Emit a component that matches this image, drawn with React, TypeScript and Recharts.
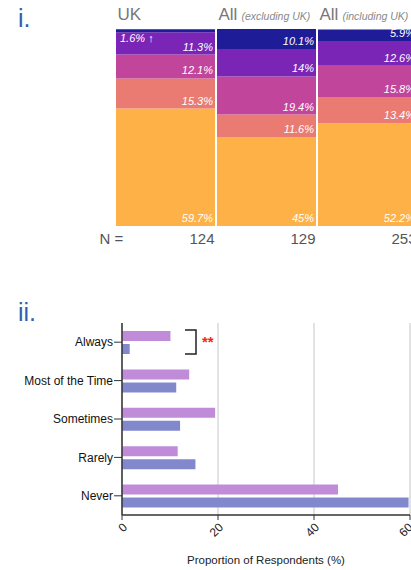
import { BarChart, Bar, XAxis, YAxis, CartesianGrid, LabelList } from 'recharts';

const groups = ['UK', 'All', 'All'];
const groupNotes = ['', '(excluding UK)', '(including UK)'];
const groupN = [124, 129, 253];

const frequencies = ['Always', 'Most of the Time', 'Sometimes', 'Rarely', 'Never'];
const ukShares = [1.6, 11.3, 12.1, 15.3, 59.7];
const exclShares = [10.1, 14, 19.4, 11.6, 45];
const inclShares = [5.9, 12.6, 15.8, 13.4, 52.2];

const xTicks = [0, 20, 40, 60];

const stackKeys = ['always', 'most', 'sometimes', 'rarely', 'never'];
const stackColors = ['#1f1c97', '#7a25b6', '#c2459c', '#e97b72', '#fdb147'];

const sharesByGroup = [ukShares, exclShares, inclShares];
const stackData = groups.map((g, i) => {
  const row: Record<string, any> = { group: `${g}|${i}`, title: g, note: groupNotes[i], n: groupN[i] };
  stackKeys.forEach((k, j) => { row[k] = sharesByGroup[i][j]; });
  return row;
});

const freqData = frequencies.map((f, i) => ({ name: f, excl: exclShares[i], uk: ukShares[i] }));

const font = '"Liberation Sans", Arial, Helvetica, sans-serif';

const TitleTick = (props: any) => {
  const { x, y, index } = props;
  const row = stackData[index];
  return (
    <text x={x - 48} y={y} fontFamily={font} fill="#777">
      <tspan fontSize={17}>{row.title}</tspan>
      {row.note && <tspan fontSize={10.5} fontStyle="italic" fill="#888" dx={4}>{row.note}</tspan>}
    </text>
  );
};

const NTick = (props: any) => {
  const { x, y, index } = props;
  return (
    <g>
      {index === 0 && (
        <text x={x - 54} y={y} fontFamily={font} fontSize={15} fill="#555" textAnchor="middle">N =</text>
      )}
      <text x={x + 49} y={y} fontFamily={font} fontSize={15} fill="#555" textAnchor="end">{groupN[index]}</text>
    </g>
  );
};

const SegLabel = (props: any) => {
  const { x, y, width, height, value } = props;
  if (value < 3) {
    return (
      <text x={x + 4} y={y + height + 10} fill="#fff" fontSize={11} fontStyle="italic" fontFamily={font}>
        {`${value}% ↑`}
      </text>
    );
  }
  return (
    <text x={x + width - 2} y={y + height - 4} fill="#fff" fontSize={11} fontStyle="italic" fontFamily={font} textAnchor="end">
      {`${value}%`}
    </text>
  );
};

const Bracket = (props: any) => {
  const { x, y, height, index } = props;
  if (index !== 0) return null;
  const top = y - 14;
  const bottom = y + height;
  return (
    <g>
      <path d={`M${x + 63},${top} H${x + 74} V${bottom} H${x + 63}`} fill="none" stroke="#222" strokeWidth={1.5} />
      <text x={x + 80} y={(top + bottom) / 2 + 5} fill="#ee2a1a" fontSize={15} fontWeight="bold" fontFamily={font}>**</text>
    </g>
  );
};

export default function App() {
  return (
    <div style={{ position: 'fixed', left: 0, top: 0, width: 411, height: 570, overflow: 'hidden', background: '#fff', fontFamily: font }}>
      <div style={{ position: 'absolute', left: 18, top: 4, fontSize: 25, color: '#2f5fb0' }}>i.</div>
      <div style={{ position: 'absolute', left: 18, top: 298, fontSize: 25, color: '#2f5fb0' }}>ii.</div>

      <div style={{ position: 'absolute', left: 0, top: 0 }}>
        <BarChart width={520} height={252} data={stackData} barCategoryGap={1}
          margin={{ top: 0, right: 102, bottom: 0, left: 115 }}>
          <XAxis dataKey="group" orientation="top" height={29} axisLine={false} tickLine={false}
            tickSize={0} tickMargin={9} tick={<TitleTick />} interval={0} />
          <XAxis xAxisId="n" dataKey="group" orientation="bottom" height={26} axisLine={false} tickLine={false}
            tickSize={0} tickMargin={18} tick={<NTick />} interval={0} />
          <YAxis hide domain={[0, 100]} />
          {[...stackKeys].reverse().map((k) => (
            <Bar key={k} dataKey={k} stackId="s" fill={stackColors[stackKeys.indexOf(k)]} isAnimationActive={false}>
              <LabelList dataKey={k} content={<SegLabel />} />
            </Bar>
          ))}
        </BarChart>
      </div>

      <div style={{ position: 'absolute', left: 0, top: 315 }}>
        <BarChart width={416} height={256} data={freqData} layout="vertical" barSize={10} barGap={3}
          margin={{ top: 8, right: 6, bottom: 0, left: 0 }}>
          <CartesianGrid horizontal={false} stroke="#cfcfcf" strokeWidth={1.2} />
          <XAxis type="number" domain={[0, 60]} ticks={xTicks} height={56}
            axisLine={{ stroke: '#333', strokeWidth: 1.5 }} tickLine={{ stroke: '#333' }} tickSize={5}
            tick={{ fill: '#222', fontSize: 12, fontFamily: font }} angle={-45} textAnchor="end"
            label={{ value: 'Proportion of Respondents (%)', position: 'insideBottom', offset: 7, fill: '#222', fontSize: 11.5, fontFamily: font }} />
          <YAxis type="category" dataKey="name" width={122}
            axisLine={{ stroke: '#333', strokeWidth: 1.5 }} tickLine={{ stroke: '#333' }} tickSize={8} tickMargin={1}
            tick={{ fill: '#111', fontSize: 12, fontFamily: font }} />
          <Bar dataKey="excl" fill="#c08cda" isAnimationActive={false} />
          <Bar dataKey="uk" fill="#8189cc" isAnimationActive={false}>
            <LabelList dataKey="uk" content={<Bracket />} />
          </Bar>
        </BarChart>
      </div>
    </div>
  );
}
